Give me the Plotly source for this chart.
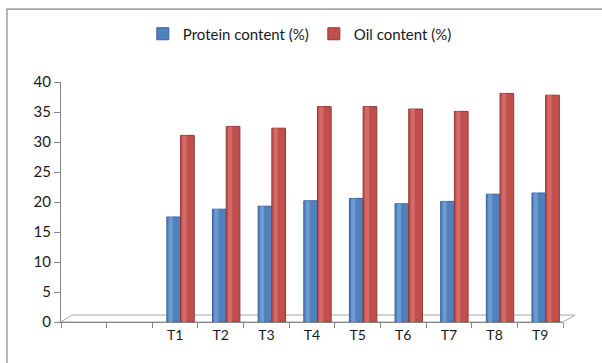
import plotly.graph_objects as go

categories = ["T1", "T2", "T3", "T4", "T5", "T6", "T7", "T8", "T9"]
empty_slots = ["\u200b", "\u200b\u200b"]
protein = [17.5, 18.8, 19.3, 20.2, 20.6, 19.7, 20.1, 21.3, 21.5]
oil = [31.1, 32.6, 32.3, 35.9, 35.9, 35.5, 35.1, 38.1, 37.8]
y_ticks = [0, 5, 10, 15, 20, 25, 30, 35, 40]

all_cats = empty_slots + categories
font_family = "Lato, 'Open Sans', sans-serif"

fig = go.Figure()

# main cylinder bodies
fig.add_trace(go.Bar(
    x=categories, y=protein, name="Protein content (%)",
    marker=dict(color="#4F81BD", line=dict(color="#36609A", width=1)),
    width=0.30, offset=-0.18,
))
fig.add_trace(go.Bar(
    x=categories, y=oil, name="Oil content (%)",
    marker=dict(color="#C0504D", line=dict(color="#943634", width=1)),
    width=0.30, offset=0.12,
))
# highlights for a cylindrical look
fig.add_trace(go.Bar(
    x=categories, y=protein, showlegend=False, hoverinfo="skip",
    marker=dict(color="#6B9AD2", line=dict(width=0)),
    width=0.09, offset=-0.14,
))
fig.add_trace(go.Bar(
    x=categories, y=oil, showlegend=False, hoverinfo="skip",
    marker=dict(color="#D46A67", line=dict(width=0)),
    width=0.09, offset=0.16,
))

fig.update_layout(
    width=602, height=363,
    margin=dict(l=61, r=39, t=82, b=41, autoexpand=False),
    paper_bgcolor="white", plot_bgcolor="white",
    barmode="overlay",
    font=dict(family=font_family, size=14, color="#1a1a1a"),
    legend=dict(
        orientation="h", x=0.163, xanchor="left", y=1.2, yanchor="middle",
        font=dict(size=15), itemwidth=30, traceorder="normal",
        bgcolor="rgba(0,0,0,0)",
    ),
    showlegend=True,
    xaxis=dict(
        type="category", categoryorder="array", categoryarray=all_cats,
        tickmode="array", tickvals=all_cats, ticktext=["", ""] + categories,
        tickson="boundaries", ticks="outside", ticklen=5, tickcolor="#868686",
        showline=True, linecolor="#868686", linewidth=1,
        showgrid=False, range=[-0.5, len(all_cats) - 0.5],
        tickfont=dict(size=14), automargin=False,
    ),
    yaxis=dict(
        range=[0, 40], tickvals=y_ticks, ticks="outside", ticklen=6,
        tickcolor="#868686", showline=True, linecolor="#868686", linewidth=1,
        showgrid=False, zeroline=False, tickfont=dict(size=15), automargin=False,
    ),
    shapes=[
        # outer chart border
        dict(type="rect", xref="paper", yref="paper",
             x0=-0.1076, x1=1.2, y0=-0.3, y1=1.304,
             line=dict(color="#868686", width=1.2), fillcolor="rgba(0,0,0,0)",
             layer="below"),
        # 3D floor
        dict(type="path", xref="paper", yref="paper",
             path="M 0 0 L 0.0219 0.029 L 1.024 0.029 L 1.0 0 Z",
             line=dict(color="#A6A6A6", width=1), fillcolor="rgba(0,0,0,0)",
             layer="below"),
    ],
)

fig.write_html("out.html", config={"displayModeBar": False},
               post_script="document.body.style.margin='0';")
